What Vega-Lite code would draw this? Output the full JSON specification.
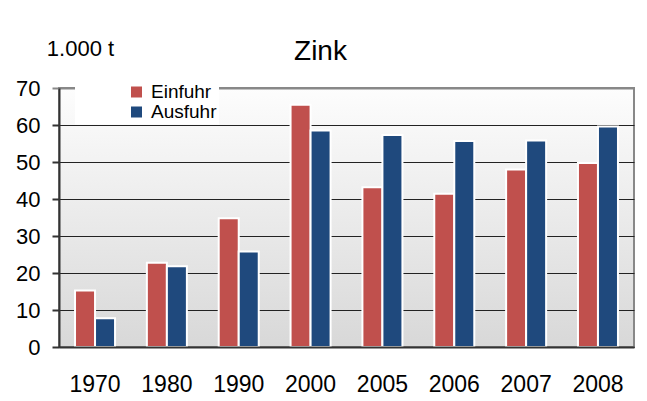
{
  "$schema": "https://vega.github.io/schema/vega-lite/v6.json",
  "width": 575,
  "height": 259,
  "autosize": {"type": "none"},
  "padding": {"left": 59, "top": 88, "right": 13, "bottom": 54},
  "background": "white",
  "title": {"text": "Zink", "fontSize": 28, "fontWeight": "normal", "font": "Liberation Sans", "color": "black", "anchor": "middle", "dx": -26, "dy": 33},
  "data": {"values": [
    {"year": "1970", "type": "Einfuhr", "value": 15.3},
    {"year": "1970", "type": "Ausfuhr", "value": 7.8},
    {"year": "1980", "type": "Einfuhr", "value": 22.8},
    {"year": "1980", "type": "Ausfuhr", "value": 21.8},
    {"year": "1990", "type": "Einfuhr", "value": 34.8},
    {"year": "1990", "type": "Ausfuhr", "value": 25.8},
    {"year": "2000", "type": "Einfuhr", "value": 65.5},
    {"year": "2000", "type": "Ausfuhr", "value": 58.5},
    {"year": "2005", "type": "Einfuhr", "value": 43.2},
    {"year": "2005", "type": "Ausfuhr", "value": 57.3},
    {"year": "2006", "type": "Einfuhr", "value": 41.4},
    {"year": "2006", "type": "Ausfuhr", "value": 55.7},
    {"year": "2007", "type": "Einfuhr", "value": 48.0},
    {"year": "2007", "type": "Ausfuhr", "value": 55.8},
    {"year": "2008", "type": "Einfuhr", "value": 49.7},
    {"year": "2008", "type": "Ausfuhr", "value": 59.6}
  ]},
  "mark": {"type": "bar", "stroke": "white", "strokeWidth": 2},
  "encoding": {
    "x": {
      "field": "year", "type": "nominal", "sort": null,
      "scale": {"paddingInner": 0.443, "paddingOuter": 0.223},
      "axis": {"title": null, "labelAngle": 0, "ticks": false, "labelPadding": 26, "labelFontSize": 23, "labelColor": "black", "domainColor": "#333333", "domainWidth": 2, "grid": false, "zindex": 1}
    },
    "xOffset": {"field": "type", "sort": ["Einfuhr", "Ausfuhr"]},
    "y": {
      "field": "value", "type": "quantitative",
      "scale": {"domain": [0, 70], "nice": false},
      "axis": {
        "values": [0, 10, 20, 30, 40, 50, 60, 70],
        "grid": true,
        "gridColor": {"condition": {"test": "datum.value === 70", "value": "#888888"}, "value": "#222222"},
        "gridWidth": {"condition": {"test": "datum.value === 70", "value": 2}, "value": 1},
        "domainColor": "#333333", "domainWidth": 2,
        "tickColor": {"condition": {"test": "datum.value === 70", "value": "#888888"}, "value": "#333333"},
        "tickSize": 7, "tickWidth": 2,
        "labelPadding": 12, "labelFontSize": 22, "labelColor": "black",
        "title": "1.000 t", "titleAngle": 0, "titleX": 21, "titleY": -33,
        "titleAlign": "center", "titleBaseline": "alphabetic",
        "titleFontSize": 22, "titleFontWeight": "normal", "titleColor": "black"
      }
    },
    "color": {
      "field": "type", "type": "nominal", "sort": ["Einfuhr", "Ausfuhr"],
      "scale": {"domain": ["Einfuhr", "Ausfuhr"], "range": ["#C0504D", "#1F497D"]},
      "legend": {
        "orient": "none", "legendX": 16, "legendY": -7.5, "title": null,
        "fillColor": "white", "padding": 2,
        "symbolType": "square", "symbolSize": 121, "symbolOffset": 50,
        "symbolStrokeWidth": 0,
        "labelFontSize": 19, "labelOffset": 5, "rowPadding": -1, "labelColor": "black"
      }
    }
  },
  "config": {
    "font": "Liberation Sans",
    "view": {
      "fill": {"gradient": "linear", "x1": 0, "y1": 0, "x2": 0, "y2": 1, "stops": [{"offset": 0, "color": "#fdfdfd"}, {"offset": 1, "color": "#d8d8d8"}]},
      "stroke": "#888888",
      "strokeWidth": 2
    }
  }
}
